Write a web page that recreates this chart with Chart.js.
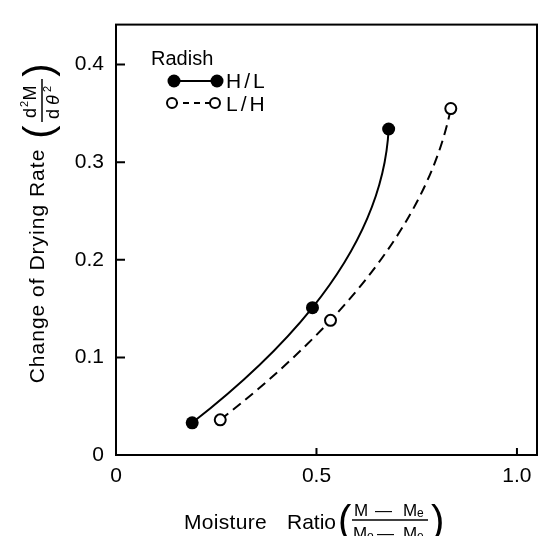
<!DOCTYPE html>
<html>
<head>
<meta charset="utf-8">
<script src="https://cdn.jsdelivr.net/npm/chart.js@4/dist/chart.umd.min.js"></script>
<style>
html,body{margin:0;padding:0;background:#fff;}
#wrap{width:547px;height:536px;position:relative;}
</style>
</head>
<body>
<div id="wrap"><canvas id="c" width="547" height="536"></canvas></div>
<script>
// ---- data ----
const seriesNames = ['H/L', 'L/H'];
const legendTitle = 'Radish';
const xHL = [0.19, 0.49, 0.68];
const yHL = [0.033, 0.151, 0.334];
const xLH = [0.26, 0.535, 0.835];
const yLH = [0.036, 0.138, 0.355];
const xTicks = [0, 0.5, 1.0];
const xTickLabels = ['0', '0.5', '1.0'];
const yTicks = [0, 0.1, 0.2, 0.3, 0.4];
const yTickLabels = ['0', '0.1', '0.2', '0.3', '0.4'];
const yTitle = 'Change of Drying Rate';
const xTitle = 'Moisture Ratio';

const FONT = '"Liberation Sans", Arial, sans-serif';

function pts(xs, ys){ return xs.map((v,i)=>({x:v, y:ys[i]})); }

function drawFilled(ctx, x, y, r){ ctx.beginPath(); ctx.arc(x,y,r,0,Math.PI*2); ctx.fillStyle='#000'; ctx.fill(); }
function drawOpen(ctx, x, y, r){ ctx.beginPath(); ctx.arc(x,y,r,0,Math.PI*2); ctx.fillStyle='#fff'; ctx.fill(); ctx.lineWidth=2; ctx.strokeStyle='#000'; ctx.stroke(); }

function spacedText(ctx, text, x, y, spacing){
  ctx.letterSpacing = spacing + 'px';
  ctx.fillText(text, x, y);
  ctx.letterSpacing = '0px';
}

// Smooth curve through the plotted points: sideways parabola x(y) in pixel space,
// set as the bezier control points of Chart.js's own line element.
const smoothCurve = {
  id: 'smoothCurve',
  beforeDatasetsDraw(chart){
    chart.data.datasets.forEach((ds, di) => {
      const meta = chart.getDatasetMeta(di);
      const p = meta.data;
      if (!meta.dataset || p.length !== 3) return;
      const [a, b, c] = p;
      const f01 = (b.x - a.x) / (b.y - a.y);
      const f12 = (c.x - b.x) / (c.y - b.y);
      const C = (f12 - f01) / (c.y - a.y);
      const d = yy => f01 + C * (2 * yy - a.y - b.y);
      for (let i = 0; i < 2; i++) {
        const P = p[i], Q = p[i + 1];
        const h = Q.y - P.y;
        const qy = P.y + h / 2, qx = P.x + d(P.y) * h / 2;
        P.cp2x = P.x + 2 / 3 * (qx - P.x); P.cp2y = P.y + 2 / 3 * (qy - P.y);
        Q.cp1x = Q.x + 2 / 3 * (qx - Q.x); Q.cp1y = Q.y + 2 / 3 * (qy - Q.y);
      }
      p[0].cp1x = p[0].x; p[0].cp1y = p[0].y;
      p[2].cp2x = p[2].x; p[2].cp2y = p[2].y;
      meta.dataset._pointsUpdated = true;
      meta.dataset._path = undefined;
    });
  }
};

const decor = {
  id: 'decor',
  afterDraw(chart){
    const {ctx, chartArea:a, scales:{x, y}} = chart;
    ctx.save();
    ctx.strokeStyle = '#000';
    ctx.lineWidth = 2;
    ctx.strokeRect(a.left, a.top, a.right - a.left, a.bottom - a.top);
    // inward ticks
    ctx.beginPath();
    yTicks.forEach(v => { if (v === 0) return; const py = y.getPixelForValue(v); ctx.moveTo(a.left, py); ctx.lineTo(a.left + 9, py); });
    xTicks.forEach(v => { if (v === 0) return; const px = x.getPixelForValue(v); ctx.moveTo(px, a.bottom); ctx.lineTo(px, a.bottom - 7); });
    ctx.stroke();

    // legend
    ctx.fillStyle = '#000';
    ctx.textBaseline = 'middle';
    ctx.textAlign = 'left';
    ctx.font = '20px ' + FONT;
    ctx.fillText(legendTitle, 151, 59);
    ctx.lineWidth = 2;
    ctx.beginPath(); ctx.moveTo(174, 81); ctx.lineTo(217, 81); ctx.stroke();
    drawFilled(ctx, 174, 81, 6.5); drawFilled(ctx, 217, 81, 6.5);
    ctx.fillStyle = '#000';
    ctx.font = '21px ' + FONT;
    spacedText(ctx, seriesNames[0], 226, 82, 3);
    ctx.setLineDash([6, 5]);
    ctx.beginPath(); ctx.moveTo(172, 103); ctx.lineTo(215, 103); ctx.stroke();
    ctx.setLineDash([]);
    drawOpen(ctx, 172, 103, 5); drawOpen(ctx, 215, 103, 5);
    ctx.fillStyle = '#000';
    ctx.font = '21px ' + FONT;
    spacedText(ctx, seriesNames[1], 226, 105, 3);

    // y title (rotated)
    ctx.save();
    ctx.translate(38, 266);
    ctx.rotate(-Math.PI/2);
    ctx.textAlign = 'center';
    ctx.textBaseline = 'middle';
    ctx.font = '21px ' + FONT;
    spacedText(ctx, yTitle, 0, 0, 1.0);
    // fraction
    ctx.font = '40px ' + FONT;
    ctx.fillText('(', 134, 3);
    ctx.fillText(')', 196, 3);
    ctx.font = '18px ' + FONT;
    ctx.fillText('d', 153, -7);
    ctx.fillText('M', 173, -7);
    ctx.font = '11px ' + FONT;
    ctx.fillText('2', 162, -13);
    ctx.font = '18px ' + FONT;
    ctx.fillText('d', 152, 16);
    ctx.font = 'italic 18px ' + FONT;
    ctx.fillText('θ', 166, 16);
    ctx.font = '11px ' + FONT;
    ctx.fillText('2', 177, 10);
    ctx.lineWidth = 1.5;
    ctx.beginPath(); ctx.moveTo(144, 4); ctx.lineTo(187, 4); ctx.stroke();
    ctx.restore();

    // x title
    ctx.textAlign = 'left';
    ctx.textBaseline = 'alphabetic';
    ctx.font = '21px ' + FONT;
    ctx.fillStyle = '#000';
    spacedText(ctx, 'Moisture', 184, 529, 0.3);
    ctx.fillText('Ratio', 287, 529);
    ctx.font = '40px ' + FONT;
    ctx.fillText('(', 338, 534);
    ctx.fillText(')', 431, 534);
    ctx.font = '17px ' + FONT;
    ctx.fillText('M', 354, 516);
    ctx.fillText('\u2014', 375, 516);
    ctx.fillText('M', 403, 516);
    ctx.font = '12px ' + FONT;
    ctx.fillText('e', 417, 517);
    ctx.font = '17px ' + FONT;
    ctx.fillText('M', 353, 539);
    ctx.fillText('\u2014', 377, 539);
    ctx.fillText('M', 403, 539);
    ctx.font = '12px ' + FONT;
    ctx.fillText('o', 367, 540);
    ctx.fillText('e', 417, 540);
    ctx.lineWidth = 1.5;
    ctx.beginPath(); ctx.moveTo(352, 520); ctx.lineTo(428, 520); ctx.stroke();
    ctx.restore();
  }
};

new Chart(document.getElementById('c'), {
  type: 'scatter',
  data: {
    datasets: [
      {
        label: seriesNames[0],
        data: pts(xHL, yHL),
        showLine: true,
        borderColor: '#000',
        borderWidth: 2,
        backgroundColor: '#000',
        pointBackgroundColor: '#000',
        pointBorderColor: '#000',
        pointRadius: 6.5,
        pointBorderWidth: 0,
        tension: 0.4,
        clip: false
      },
      {
        label: seriesNames[1],
        data: pts(xLH, yLH),
        showLine: true,
        borderColor: '#000',
        borderWidth: 2,
        borderDash: [10, 6],
        backgroundColor: '#fff',
        pointBackgroundColor: '#fff',
        pointBorderColor: '#000',
        pointRadius: 5.5,
        pointBorderWidth: 2,
        tension: 0.4,
        clip: false
      }
    ]
  },
  options: {
    responsive: false,
    animation: false,
    events: [],
    layout: { padding: { top: 14, right: 10, left: 0, bottom: 0 } },
    plugins: { legend: { display: false }, tooltip: { enabled: false } },
    scales: {
      x: {
        type: 'linear', min: 0, max: 1.05,
        grid: { display: false, drawTicks: false },
        border: { display: false },
        afterFit: s => { s.height = 81; },
        afterBuildTicks: s => { s.ticks = xTicks.map(v => ({ value: v })); },
        ticks: {
          padding: 9, color: '#000', maxRotation: 0, autoSkip: false,
          font: { family: FONT, size: 21 },
          callback: (v) => { const i = xTicks.indexOf(v); return i >= 0 ? xTickLabels[i] : ''; }
        }
      },
      y: {
        type: 'linear', min: 0, max: 0.441,
        grid: { display: false, drawTicks: false },
        border: { display: false },
        afterFit: s => { s.width = 116; },
        afterBuildTicks: s => { s.ticks = yTicks.map(v => ({ value: v })); },
        ticks: {
          padding: 12, color: '#000', autoSkip: false,
          font: { family: FONT, size: 21 },
          callback: (v) => { const i = yTicks.indexOf(v); return i >= 0 ? yTickLabels[i] : ''; }
        }
      }
    }
  },
  plugins: [smoothCurve, decor]
});
</script>
</body>
</html>
